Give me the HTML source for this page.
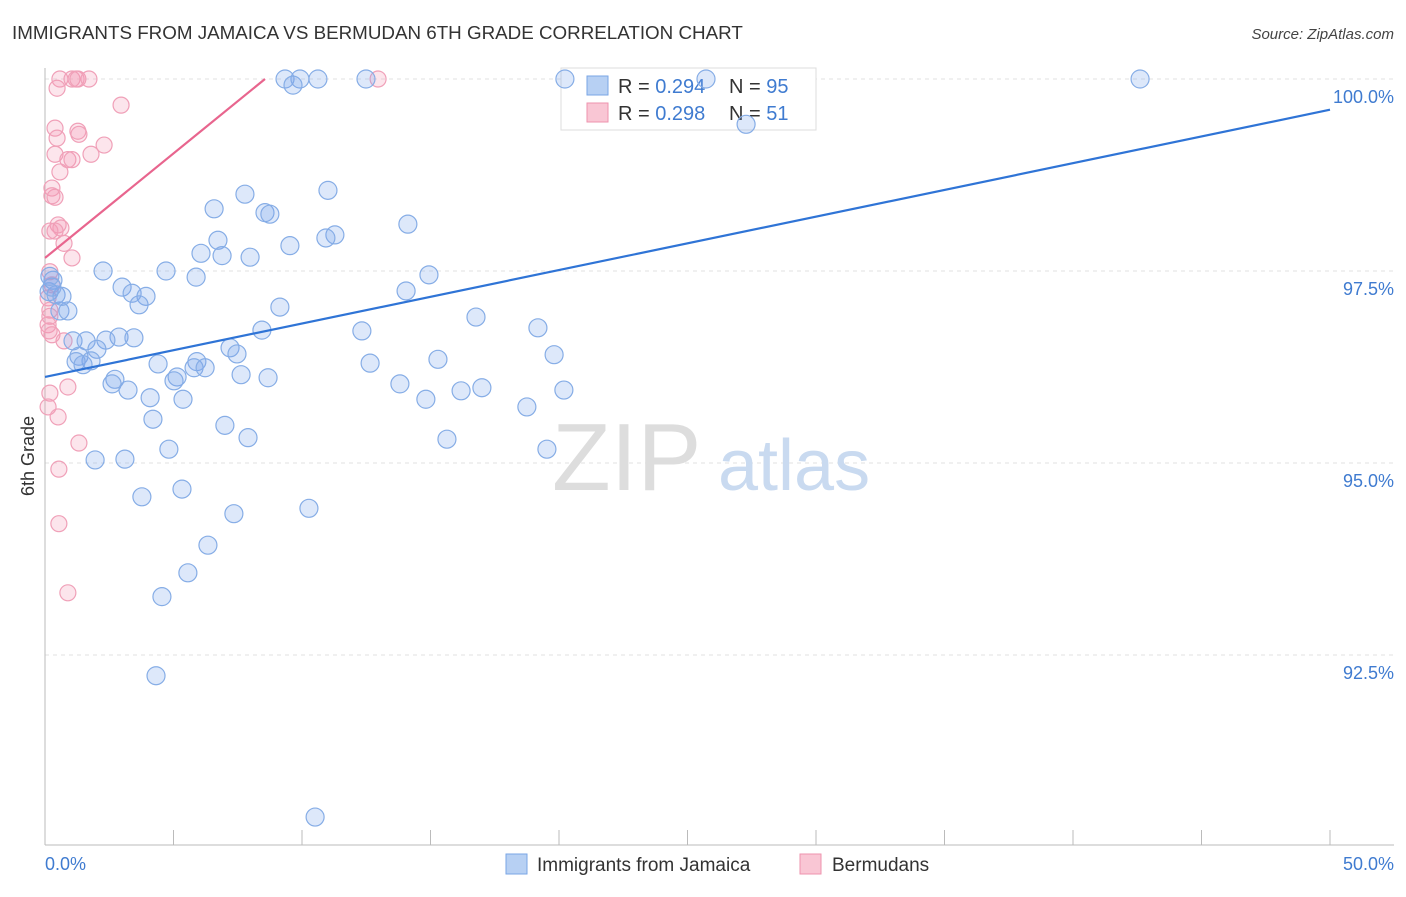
<!DOCTYPE html>
<html><head><meta charset="utf-8"><style>
body{margin:0;background:#fff;font-family:"Liberation Sans",sans-serif;}
svg text{font-family:"Liberation Sans",sans-serif;}
</style></head><body>
<svg id="chart" width="1406" height="892" xmlns="http://www.w3.org/2000/svg">
<text x="12" y="39" font-size="18.8" fill="#333">IMMIGRANTS FROM JAMAICA VS BERMUDAN 6TH GRADE CORRELATION CHART</text>
<text x="1394" y="39" font-size="15" fill="#444" text-anchor="end" font-style="italic">Source: ZipAtlas.com</text>
<g id="grid"></g>
<text x="552" y="490" font-size="96" fill="#ddd" font-family="Liberation Serif">ZIP</text>
<text x="718" y="490" font-size="72" fill="#c9daf0">atlas</text>
<g>
<rect x="561" y="68" width="255" height="62" fill="#fff" stroke="#ddd"/>
<rect x="587" y="76" width="21" height="19" fill="#b7d0f3" stroke="#7aa6e6"/>
<rect x="587" y="103" width="21" height="19" fill="#f9c6d4" stroke="#ee93ae"/>
<text x="618" y="93" font-size="20" fill="#333">R = <tspan fill="#3f7bd0">0.294</tspan></text>
<text x="729" y="93" font-size="20" fill="#333">N = <tspan fill="#3f7bd0">95</tspan></text>
<text x="618" y="120" font-size="20" fill="#333">R = <tspan fill="#3f7bd0">0.298</tspan></text>
<text x="729" y="120" font-size="20" fill="#333">N = <tspan fill="#3f7bd0"> 51</tspan></text>
</g>
<g id="pts"></g>
<g id="lines"></g>
<text transform="translate(34,456) rotate(-90)" font-size="18" fill="#333" text-anchor="middle">6th Grade</text>
<text x="45" y="870" font-size="18" fill="#3f7bd0">0.0%</text>
<text x="1394" y="870" font-size="18" fill="#3f7bd0" text-anchor="end">50.0%</text>
<g><rect x="506" y="854" width="21" height="20" fill="#b7d0f3" stroke="#7aa6e6"/><text x="537" y="871" font-size="19" fill="#333">Immigrants from Jamaica</text></g>
<g><rect x="800" y="854" width="21" height="20" fill="#f9c6d4" stroke="#ee93ae"/><text x="832" y="871" font-size="19" fill="#333">Bermudans</text></g>
</svg>
<script>
const yTicks=[100,97.5,95,92.5];
const yTickLabels=["100.0%","97.5%","95.0%","92.5%"];
const blueX=[9.34,9.92,10.62,12.49,9.65,20.23,25.72,42.61,27.28,7.78,6.58,8.56,8.75,11.01,14.12,11.28,10.93,6.73,6.07,6.89,7.98,9.53,4.71,5.88,2.26,14.94,3.00,3.39,3.93,3.66,9.14,14.05,16.77,19.18,12.33,8.44,2.88,3.46,2.37,1.09,1.60,2.02,1.32,1.79,1.21,1.48,7.20,7.47,5.91,5.80,6.23,4.40,12.65,15.29,19.81,2.72,2.61,3.23,5.14,5.02,7.63,8.68,13.81,16.19,17.00,14.82,18.75,20.19,4.09,5.37,4.20,7.00,7.90,15.64,19.53,4.82,1.95,3.11,3.77,5.33,7.35,10.27,6.34,5.56,4.55,4.32,10.51,0.58,0.89,0.31,0.16,0.43,0.66,0.27,0.19];
const blueY=[100,100,100,100,99.92,100,100,100,99.41,98.50,98.31,98.26,98.24,98.55,98.11,97.97,97.93,97.90,97.73,97.70,97.68,97.83,97.50,97.42,97.50,97.45,97.29,97.21,97.17,97.06,97.03,97.24,96.90,96.76,96.72,96.73,96.64,96.63,96.60,96.59,96.59,96.48,96.39,96.33,96.32,96.28,96.50,96.42,96.32,96.24,96.24,96.29,96.30,96.35,96.41,96.09,96.03,95.95,96.12,96.07,96.15,96.11,96.03,95.94,95.98,95.83,95.73,95.95,95.85,95.83,95.57,95.49,95.33,95.31,95.18,95.18,95.04,95.05,94.56,94.66,94.34,94.41,93.93,93.57,93.26,92.23,90.39,96.98,96.98,97.38,97.23,97.19,97.17,97.29,97.43];
const pinkX=[0.58,1.05,1.21,1.28,1.71,12.96,0.47,2.96,0.39,1.28,1.32,0.47,2.30,1.79,0.39,0.89,1.05,0.58,0.27,0.39,0.27,0.51,0.62,0.19,0.39,0.74,1.05,0.19,0.27,0.12,0.19,0.19,0.12,0.16,0.74,0.89,0.19,0.12,0.51,1.32,0.54,0.54,0.89,0.27];
const pinkY=[100,100,100,100,100,100,99.88,99.66,99.36,99.32,99.28,99.23,99.14,99.02,99.02,98.95,98.95,98.79,98.58,98.46,98.48,98.10,98.06,98.02,98.02,97.86,97.67,97.49,97.32,97.15,96.99,96.91,96.80,96.72,96.59,95.99,95.91,95.73,95.60,95.26,94.92,94.21,93.31,96.67];
const blueTrend=[96.12,99.60];
const pinkTrend=[97.67,100];
const NS="http://www.w3.org/2000/svg";
const X=v=>45+v/50*1285;
const Y=v=>79+(100-v)/2.5*192;
function mk(t,a){const e=document.createElementNS(NS,t);for(const k in a)e.setAttribute(k,a[k]);return e;}
const grid=document.getElementById('grid');
yTicks.forEach((t,i)=>{
 const l=mk('line',{x1:45,x2:1394,y1:Y(t),y2:Y(t),stroke:'#e2e2e2','stroke-dasharray':'4,4'});
 
 
 grid.appendChild(l);
 const tx=mk('text',{x:1394,y:Y(t)+24,'font-size':18,fill:'#3f7bd0','text-anchor':'end'});
 tx.textContent=yTickLabels[i];
 
 
 grid.appendChild(tx);
});
const ax=mk('line',{x1:45,x2:1394,y1:845,y2:845,stroke:'#bbb'});


grid.appendChild(ax);
const ay=mk('line',{x1:45,x2:45,y1:68,y2:845,stroke:'#bbb'});


grid.appendChild(ay);
for(let k=0;k<=10;k++){
 const t=mk('line',{x1:X(k*5),x2:X(k*5),y1:830,y2:845,stroke:'#bbb'});
 
 
 grid.appendChild(t);
}
const pts=document.getElementById('pts');
pinkX.forEach((x,i)=>{
 const c=mk('circle',{cx:X(x),cy:Y(pinkY[i]),r:8,fill:'rgba(244,150,180,0.25)',stroke:'#f0a0b8','stroke-width':1.2});
 
 
 pts.appendChild(c);
});
blueX.forEach((x,i)=>{
 const c=mk('circle',{cx:X(x),cy:Y(blueY[i]),r:9,fill:'rgba(120,165,235,0.25)',stroke:'#86ade6','stroke-width':1.2});
 
 
 pts.appendChild(c);
});
const lines=document.getElementById('lines');
const bl=mk('line',{x1:X(0),y1:Y(blueTrend[0]),x2:X(50),y2:Y(blueTrend[1]),stroke:'#2f74d6','stroke-width':2.2});


lines.appendChild(bl);
const pl=mk('line',{x1:X(0),y1:Y(pinkTrend[0]),x2:X(8.56),y2:Y(pinkTrend[1]),stroke:'#e8658e','stroke-width':2.2});


lines.appendChild(pl);
</script>
</body></html>
